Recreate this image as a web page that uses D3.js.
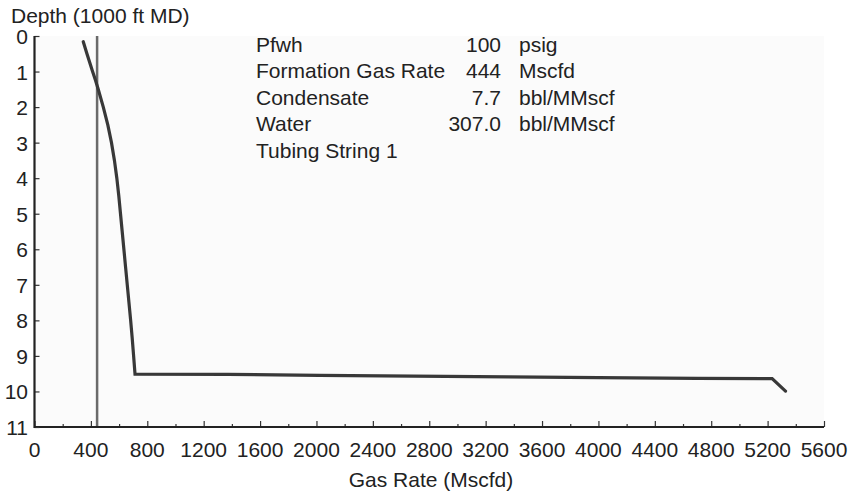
<!DOCTYPE html>
<html><head><meta charset="utf-8">
<script src="https://cdn.jsdelivr.net/npm/d3@7"></script>
<style>body{margin:0;background:#fff}svg{display:block}text{font-family:"Liberation Sans",Arial,sans-serif;fill:#222}</style>
</head><body><svg id="c" width="852" height="494"></svg>
<script>
const gasRate = [346,372,412,432,452,488,520,546,567,584,598,610,622,634,646,658,670,682,693,703,713,1370,2020,2690,3360,4000,4700,5232,5327];
const depth   = [0.16,0.5,1.0,1.24,1.5,2.0,2.5,3.0,3.5,4.0,4.5,5.0,5.5,6.0,6.5,7.0,7.5,8.0,8.5,9.0,9.51,9.52,9.55,9.57,9.59,9.61,9.63,9.64,9.99];
const formationGasRate = 444;
const xTicks = [0,400,800,1200,1600,2000,2400,2800,3200,3600,4000,4400,4800,5200,5600];
const yTicks = [0,1,2,3,4,5,6,7,8,9,10,11];
const infoLabels = ["Pfwh","Formation Gas Rate","Condensate","Water","Tubing String 1"];
const infoValues = ["100","444","7.7","307.0",""];
const infoUnits  = ["psig","Mscfd","bbl/MMscf","bbl/MMscf",""];

const svg = d3.select("#c");
const L=34.5, R=824, T=36, B=427;
const FS = 21;
const x = d3.scaleLinear().domain([0,5600]).range([L,R]);
const y = d3.scaleLinear().domain([0,11]).range([T,B]);

svg.append("rect").attr("x",L).attr("y",T).attr("width",R-L).attr("height",B-T).attr("fill","#fbfbfb");

// formation gas rate line
svg.append("line").attr("x1",x(formationGasRate)).attr("x2",x(formationGasRate))
  .attr("y1",T).attr("y2",B).attr("stroke","#6a6a6a").attr("stroke-width",2.5);

// curve
const pts = gasRate.map((g,i)=>[g,depth[i]]);
svg.append("path").datum(pts)
  .attr("d", d3.line().x(d=>x(d[0])).y(d=>y(d[1])))
  .attr("fill","none").attr("stroke","#383838").attr("stroke-width",3.2)
  .attr("stroke-linejoin","miter").attr("stroke-linecap","round");

// x axis
const xa = svg.append("g").attr("transform",`translate(0,${B})`);
xa.call(d3.axisTop(x).tickValues(d3.range(0,5601,200)).tickSize(4).tickFormat(""));
xa.select(".domain").remove();
xa.selectAll(".tick line").attr("stroke","#333").attr("stroke-width",1.2)
  .attr("y2", d => d%400===0 ? -6 : -3);
xa.append("line").attr("x1",L).attr("x2",R).attr("stroke","#222").attr("stroke-width",2.2);
svg.append("g").selectAll("text").data(xTicks).join("text")
  .attr("x",d=>x(d)).attr("y",457).attr("text-anchor","middle").attr("font-size",FS).text(d=>d);

// y axis
const ya = svg.append("g").attr("transform",`translate(${L},0)`);
ya.call(d3.axisRight(y).tickValues(yTicks).tickSize(5).tickFormat(""));
ya.select(".domain").remove();
ya.selectAll(".tick line").attr("stroke","#333").attr("stroke-width",1.2);
ya.append("line").attr("y1",T).attr("y2",B+1).attr("stroke","#222").attr("stroke-width",2.2);
svg.append("g").selectAll("text").data(yTicks).join("text")
  .attr("x",28).attr("y",d=>y(d)+8).attr("text-anchor","end").attr("font-size",FS).text(d=>d);

svg.append("text").attr("x",11).attr("y",23).attr("font-size",FS).text("Depth (1000 ft MD)");
svg.append("text").attr("x",431).attr("y",487).attr("text-anchor","middle").attr("font-size",FS).text("Gas Rate (Mscfd)");

// info block
const info = svg.append("g");
infoLabels.forEach((t,i)=>{
  const yy = 51.5 + i*26.5;
  info.append("text").attr("x",256).attr("y",yy).attr("font-size",FS).text(t);
  info.append("text").attr("x",501).attr("y",yy).attr("font-size",FS).attr("text-anchor","end").text(infoValues[i]);
  info.append("text").attr("x",519).attr("y",yy).attr("font-size",FS).text(infoUnits[i]);
});
</script></body></html>
